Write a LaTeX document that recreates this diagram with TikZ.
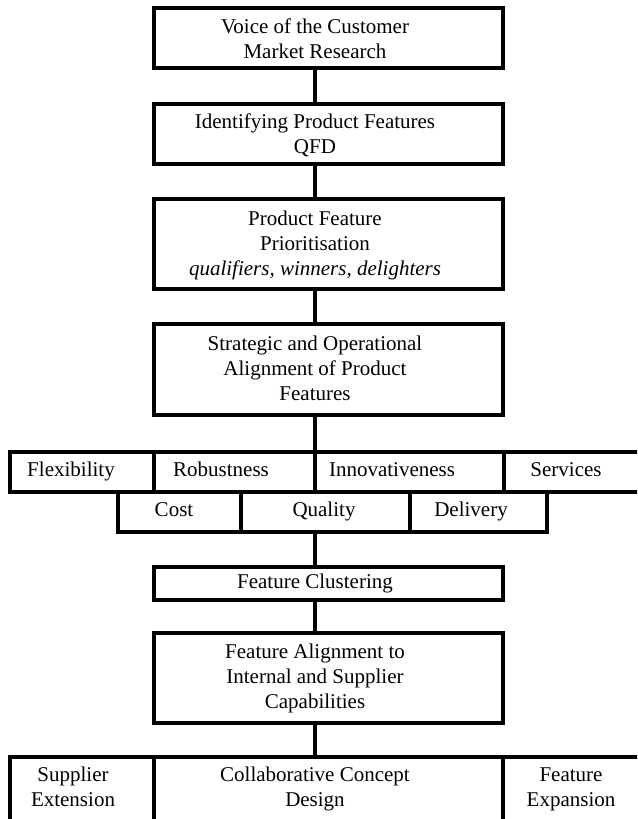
\documentclass[tikz,border=0pt]{standalone}
\usepackage{fontspec}
\setmainfont{Liberation Serif}
\begin{document}
\begin{tikzpicture}[x=1pt,y=-1pt,
  bx/.style 2 args={draw, line width=3.5pt, rectangle, inner sep=0pt, outer sep=0pt,
    minimum width=#1, minimum height=#2, anchor=north west},
  txt/.style={align=center, inner sep=0pt, font=\fontsize{21}{25}\selectfont},
  one/.style={txt, text height=14pt, text depth=4.5pt},
  link/.style={line width=3.5pt}]
\clip (0,0) rectangle (637,819);
\useasboundingbox (0,0) rectangle (637,819);
% main boxes
\node[bx={349pt}{60pt}] (b1) at (154,8) {};
\node[bx={349pt}{60pt}] (b2) at (154,104) {};
\node[bx={349pt}{90pt}] (b3) at (154,199) {};
\node[bx={349pt}{91pt}] (b4) at (154,324) {};
\node[txt] (t1) at (315,39) {Voice of the Customer\\Market Research};
\node[txt] (t2) at (315,135) {Identifying Product Features\\QFD};
\node[txt] (t3) at (315,245) {Product Feature\\Prioritisation\\\textit{qualifiers, winners, delighters}};
\node[txt] (t4) at (315,370) {Strategic and Operational\\Alignment of Product\\Features\vphantom{p}};
% row 1
\node[bx={144pt}{40pt}] (r1a) at (10,452) {};
\node[bx={161pt}{40pt}] (r1b) at (154,452) {};
\node[bx={189pt}{40pt}] (r1c) at (315,452) {};
\node[bx={150pt}{40pt}] (r1d) at (504,452) {};
\node[one] (tr1a) at (71,472) {Flexibility};
\node[one] (tr1b) at (221,472) {Robustness};
\node[one] (tr1c) at (392,472) {Innovativeness};
\node[one] (tr1d) at (566,472) {Services};
% row 2
\node[bx={123pt}{40pt}] (r2a) at (118,492) {};
\node[bx={169pt}{40pt}] (r2b) at (241,492) {};
\node[bx={137pt}{40pt}] (r2c) at (410,492) {};
\node[one] (tr2a) at (174,512) {Cost};
\node[one] (tr2b) at (324,512) {Quality};
\node[one] (tr2c) at (471,512) {Delivery};
% lower boxes
\node[bx={349pt}{33pt}] (fc) at (154,567) {};
\node[bx={349pt}{90pt}] (fa) at (154,633) {};
\node[one] (tfc) at (315,583.5) {Feature Clustering};
\node[txt] (tfa) at (315,678) {Feature Alignment to\\Internal and Supplier\\Capabilities};
% bottom row
\node[bx={144pt}{100pt}] (ba) at (10,757) {};
\node[bx={349pt}{100pt}] (bb) at (154,757) {};
\node[bx={150pt}{100pt}] (bc) at (503,757) {};
\node[txt] (tba) at (73,789) {Supplier\\Extension\vphantom{p}};
\node[txt] (tbb) at (315,789) {Collaborative Concept\\Design};
\node[txt] (tbc) at (571,789) {Feature\\Expansion};
% connectors
\draw[link] (t1 |- b1.south) -- (t1 |- b2.north);
\draw[link] (t2 |- b2.south) -- (t2 |- b3.north);
\draw[link] (t3 |- b3.south) -- (t3 |- b4.north);
\draw[link] (t4 |- b4.south) -- (r1c.north west);
\draw[link] (tfc |- r2b.south) -- (tfc |- fc.north);
\draw[link] (tfc |- fc.south) -- (tfa |- fa.north);
\draw[link] (tfa |- fa.south) -- (tfa |- bb.north);
\end{tikzpicture}
\end{document}
